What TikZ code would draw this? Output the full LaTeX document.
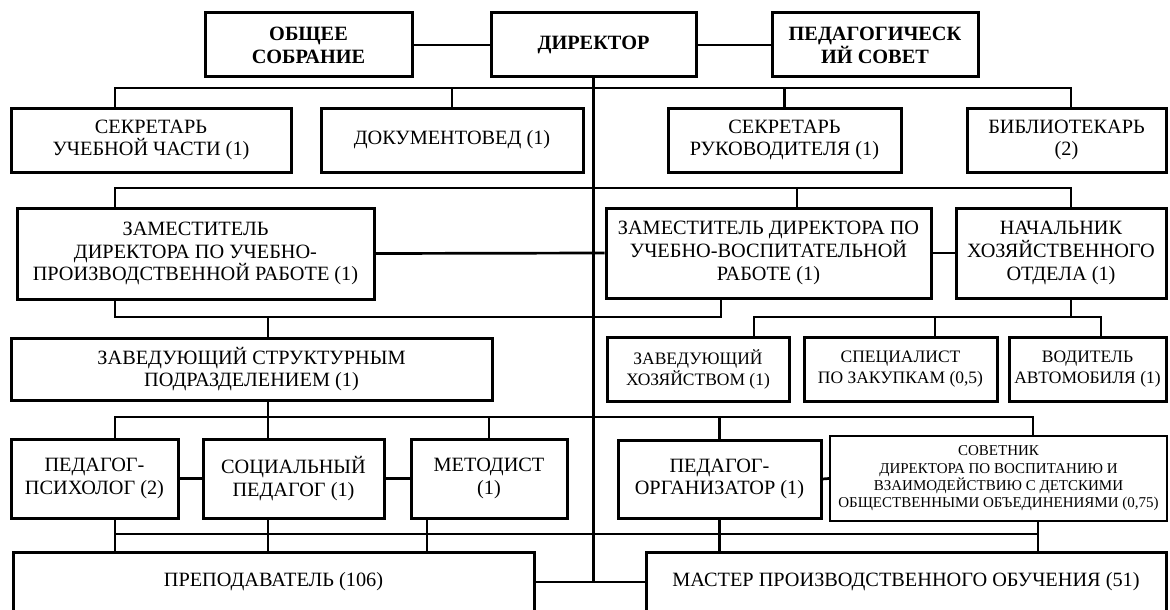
\documentclass[tikz,border=0pt]{standalone}
\usepackage{fontspec}
\setmainfont{Liberation Serif}
\begin{document}
\begin{tikzpicture}[x=1pt,y=-1pt,
  box/.style={draw, line width=3pt, align=center, inner sep=0pt,
    font=\fontsize{20.3}{22.8}\selectfont},
  boldbox/.style={box, font=\bfseries\fontsize{20.3}{22.8}\selectfont},
  smallbox/.style={box, font=\fontsize{17.5}{21}\selectfont},
  tinybox/.style={box, line width=2.2pt, font=\fontsize{15}{17.3}\selectfont},
  conn/.style={line width=2.7pt}]
\useasboundingbox (0,0) rectangle (1170,610);
% row 1
\node[boldbox, minimum width=207pt, minimum height=64pt] (obsch) at (308.5,45) {ОБЩЕЕ\\СОБРАНИЕ};
\node[boldbox, minimum width=205pt, minimum height=64pt] (dir) at (593.5,45) {ДИРЕКТОР};
\node[boldbox, minimum width=206pt, minimum height=64pt] (ped) at (875,45) {ПЕДАГОГИЧЕСК\\ИЙ СОВЕТ};
% row 2
\node[box, minimum width=280pt, minimum height=64pt] (sekuch) at (151,140) {СЕКРЕТАРЬ\\УЧЕБНОЙ ЧАСТИ (1)};
\node[box, minimum width=262pt, minimum height=64pt] (dokum) at (452,140) {ДОКУМЕНТОВЕД (1)};
\node[box, minimum width=233pt, minimum height=64pt] (sekruk) at (784.5,140) {СЕКРЕТАРЬ\\РУКОВОДИТЕЛЯ (1)};
\node[box, minimum width=199pt, minimum height=64pt] (bibl) at (1066.5,140) {БИБЛИОТЕКАРЬ\\(2)};
% row 3
\node[box, minimum width=357pt, minimum height=91pt] (zupr) at (195.5,253.5) {ЗАМЕСТИТЕЛЬ\\ДИРЕКТОРА ПО УЧЕБНО-\\ПРОИЗВОДСТВЕННОЙ РАБОТЕ (1)};
\node[box, minimum width=325pt, minimum height=90pt] (zuvr) at (768.5,253) {ЗАМЕСТИТЕЛЬ ДИРЕКТОРА ПО\\УЧЕБНО-ВОСПИТАТЕЛЬНОЙ\\РАБОТЕ (1)};
\node[box, minimum width=210pt, minimum height=90pt] (nach) at (1061,253) {НАЧАЛЬНИК\\ХОЗЯЙСТВЕННОГО\\ОТДЕЛА (1)};
% row 4
\node[box, minimum width=481pt, minimum height=62pt] (zavstr) at (251.5,369) {ЗАВЕДУЮЩИЙ СТРУКТУРНЫМ\\ПОДРАЗДЕЛЕНИЕМ (1)};
\node[smallbox, minimum width=182pt, minimum height=64pt] (zavhoz) at (698,369) {ЗАВЕДУЮЩИЙ\\ХОЗЯЙСТВОМ (1)};
\node[smallbox, minimum width=193pt, minimum height=64pt] (spec) at (900.5,369) {СПЕЦИАЛИСТ\\ПО ЗАКУПКАМ (0,5)};
\node[smallbox, minimum width=157pt, minimum height=64pt] (vod) at (1087.5,369) {ВОДИТЕЛЬ\\АВТОМОБИЛЯ (1)};
% row 5
\node[box, minimum width=167pt, minimum height=79pt] (psych) at (94.5,478.5) {ПЕДАГОГ-\\ПСИХОЛОГ (2)};
\node[box, minimum width=181pt, minimum height=79pt] (soc) at (293.5,478.5) {СОЦИАЛЬНЫЙ\\ПЕДАГОГ (1)};
\node[box, minimum width=156pt, minimum height=79pt] (metod) at (489,478.5) {МЕТОДИСТ\\(1)};
\node[box, minimum width=203pt, minimum height=78pt] (porg) at (719.5,479) {ПЕДАГОГ-\\ОРГАНИЗАТОР (1)};
\node[tinybox, minimum width=337pt, minimum height=85pt] (sovet) at (998.5,478.5) {СОВЕТНИК\\ДИРЕКТОРА ПО ВОСПИТАНИЮ И\\ВЗАИМОДЕЙСТВИЮ С ДЕТСКИМИ\\ОБЩЕСТВЕННЫМИ ОБЪЕДИНЕНИЯМИ (0,75)};
% row 6
\node[box, minimum width=521pt, minimum height=60pt] (prep) at (273.5,582) {ПРЕПОДАВАТЕЛЬ (106)};
\node[box, minimum width=520pt, minimum height=60pt] (master) at (906,582) {МАСТЕР ПРОИЗВОДСТВЕННОГО ОБУЧЕНИЯ (51)};
% coordinates
\coordinate (b1l) at (115,88);  \coordinate (b1r) at (1071,88);
\coordinate (b2l) at (115,188); \coordinate (b2r) at (1071,188); \coordinate (b2m) at (797,188);
\coordinate (b3l) at (115,317); \coordinate (b3r) at (721,317); \coordinate (b3m) at (268,317);
\coordinate (b4) at (1071,317); \coordinate (b4l) at (754,317); \coordinate (b4r) at (1101,317); \coordinate (b4m) at (935,317);
\coordinate (b5l) at (115,417); \coordinate (b5r) at (1033,417);
\coordinate (b6l) at (115,534); \coordinate (b6r) at (1038,534); \coordinate (x427) at (427,534);
% connectors
\draw[conn] (obsch.east) -- (dir.west);
\draw[conn] (dir.east) -- (ped.west);
\draw[conn] (dir.south) -- (dir.south |- prep.east);
\draw[conn] (prep.east) -- (master.west);
\draw[conn] (sekuch.north -| b1l) -- (b1l) -- (b1r) -- (bibl.north -| b1r);
\draw[conn] (dokum.north) -- (dokum.north |- b1l);
\draw[conn] (sekruk.north) -- (sekruk.north |- b1l);
\draw[conn] (zupr.north -| b2l) -- (b2l) -- (b2r) -- (nach.north -| b2r);
\draw[conn] (b2m) -- (zuvr.north -| b2m);
\draw[conn] (zupr.east) -- (zuvr.west);
\draw[conn] (zuvr.east) -- (nach.west);
\draw[conn] (zupr.south -| b3l) -- (b3l) -- (b3r) -- (zuvr.south -| b3r);
\draw[conn] (b3m) -- (zavstr.north -| b3m);
\draw[conn] (nach.south -| b4) -- (b4);
\draw[conn] (zavhoz.north -| b4l) -- (b4l) -- (b4r) -- (vod.north -| b4r);
\draw[conn] (b4m) -- (spec.north -| b4m);
\draw[conn] (psych.north -| b5l) -- (b5l) -- (b5r) -- (sovet.north -| b5r);
\draw[conn] (zavstr.south -| b3m) -- (soc.north -| b3m);
\draw[conn] (metod.north) -- (metod.north |- b5l);
\draw[conn] (porg.north) -- (porg.north |- b5l);
\draw[conn] (psych.east) -- (soc.west);
\draw[conn] (soc.east) -- (metod.west);
\draw[conn] (porg.east) -- (sovet.west);
\draw[conn] (b6l) -- (b6r);
\draw[conn] (psych.south -| b6l) -- (prep.north -| b6l);
\draw[conn] (soc.south -| b3m) -- (prep.north -| b3m);
\draw[conn] (metod.south -| x427) -- (prep.north -| x427);
\draw[conn] (porg.south) -- (porg.south |- master.north);
\draw[conn] (sovet.south -| b6r) -- (master.north -| b6r);
\end{tikzpicture}
\end{document}
